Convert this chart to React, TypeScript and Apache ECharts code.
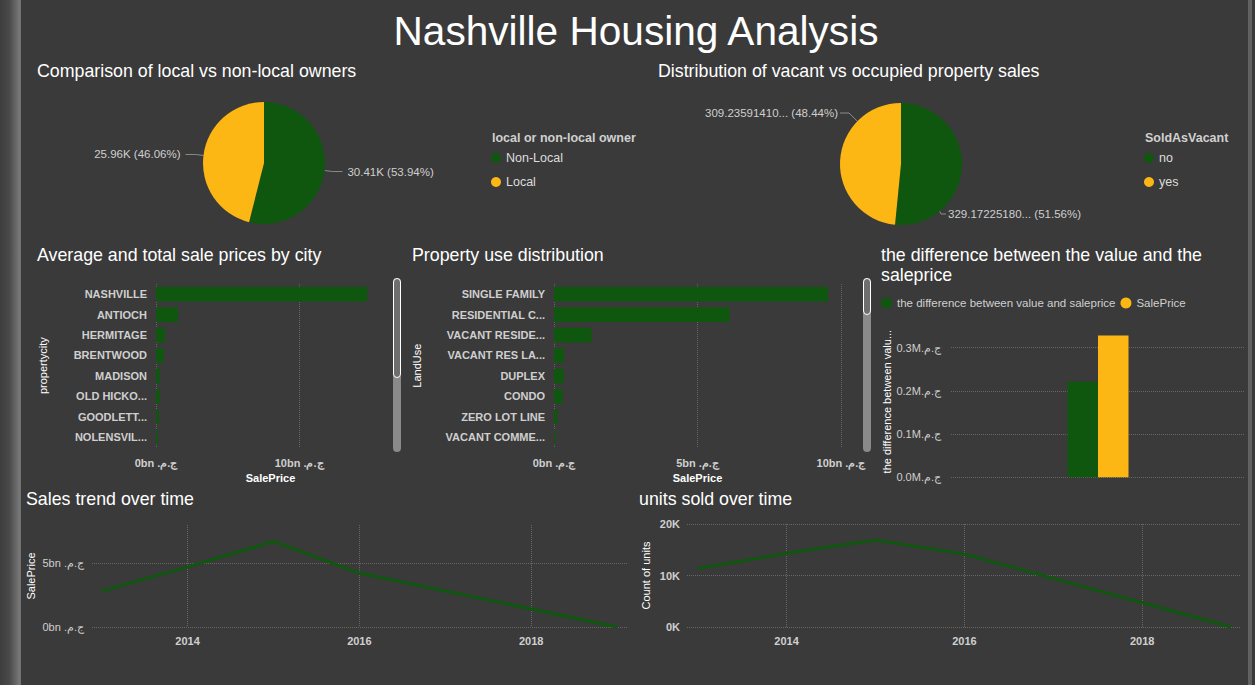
import React, { useEffect, useRef } from "react";
import * as echarts from "echarts";

// ---------- data ----------
const ownerTypes = ["Non-Local", "Local"];
const ownerCounts = [30406, 25964];

const vacantTypes = ["no", "yes"];
const vacantSums = [329.1722518, 309.2359141];

const cities = ["NASHVILLE", "ANTIOCH", "HERMITAGE", "BRENTWOOD", "MADISON", "OLD HICKORY", "GOODLETTSVILLE", "NOLENSVILLE"];
const citySalesBn = [14.76, 1.54, 0.63, 0.54, 0.26, 0.26, 0.19, 0.12];

const landUses = ["SINGLE FAMILY", "RESIDENTIAL CONDO", "VACANT RESIDENTIAL LAND", "VACANT RES LAND", "DUPLEX", "CONDO", "ZERO LOT LINE", "VACANT COMMERCIAL LAND"];
const landSalesBn = [9.55, 6.12, 1.31, 0.35, 0.34, 0.3, 0.12, 0.05];

const diffSeriesNames = ["the difference between value and saleprice", "SalePrice"];
const diffValues = [221000, 328000];

const years = [2013, 2014, 2015, 2016, 2019];
const yearlySalesBn = [2.81, 4.72, 6.71, 4.23, 0.003];
const yearlyUnits = [11360, 14300, 16880, 14150, 2];
const yearTicks = [2014, 2016, 2018];

// ---------- style ----------
const GREEN = "#0f570f";
const YELLOW = "#fdb714";
const BG = "#3a3a3a";
const FONT = "'Liberation Sans', Arial, sans-serif";
const LABEL = "#cfcfcf";
const CUR = " ج.م.\u200f";
const CUR_TIGHT = "ج.م.\u200f";
const gridLine = { show: true, lineStyle: { color: "#666666", type: "dotted", width: 1 } };
const PIE2 = { cx: 901, cy: 164, r: 61 };

const txt = (text: string, x: number, y: number, fontSize: number, extra: any = {}) => ({
  type: "text",
  x,
  y,
  silent: true,
  style: {
    text,
    fill: "#ffffff",
    fontSize,
    fontFamily: FONT,
    align: "left",
    textAlign: "left",
    verticalAlign: "middle",
    textVerticalAlign: "middle",
    ...extra,
  },
});

const scrollbar = (x: number, top: number, h: number, thumbH: number) => [
  { type: "rect", silent: true, shape: { x, y: top, width: 8, height: h, r: 4 }, style: { fill: "#8a8a8a" } },
  {
    type: "rect",
    silent: true,
    shape: { x: x + 0.5, y: top + 0.5, width: 7, height: thumbH, r: 3.5 },
    style: { fill: "#6e6e6e", stroke: "#ffffff", lineWidth: 1 },
  },
];

// point on pie 2's rim in the direction of (px, py)
const rimToward = (px: number, py: number) => {
  const dx = px - PIE2.cx;
  const dy = py - PIE2.cy;
  const d = Math.sqrt(dx * dx + dy * dy);
  return [PIE2.cx + (dx / d) * PIE2.r, PIE2.cy + (dy / d) * PIE2.r];
};

const axisLabelStyle = { color: LABEL, fontSize: 11, fontWeight: "bold", fontFamily: FONT };
const nameStyle = { color: "#ffffff", fontSize: 11, fontFamily: FONT };

export default function App() {
  const ref = useRef<HTMLDivElement>(null);

  useEffect(() => {
    document.body.style.margin = "0";
    document.body.style.background = BG;
    const chart = echarts.init(ref.current!, null, { renderer: "svg" });

    const option: any = {
      animation: false,
      backgroundColor: BG,
      textStyle: { fontFamily: FONT },
      graphic: [
        {
          type: "rect",
          silent: true,
          shape: { x: 0, y: 0, width: 21, height: 685 },
          style: {
            fill: new echarts.graphic.LinearGradient(0, 0, 1, 0, [
              { offset: 0, color: "#3e3e3e" },
              { offset: 0.45, color: "#4a4a4a" },
              { offset: 0.95, color: "#7a7a7a" },
              { offset: 1, color: "#6a6a6a" },
            ]),
          },
        },
        { type: "rect", silent: true, shape: { x: 1248, y: 0, width: 4, height: 685 }, style: { fill: "#616161" } },
        txt("Nashville Housing Analysis", 636, 31, 40.6, { align: "center", textAlign: "center" }),
        txt("Comparison of local vs non-local owners", 37, 71, 17.8),
        txt("Distribution of vacant vs occupied property sales", 658, 71, 17.8),
        txt("Average and total sale prices by city", 37, 255, 17.8),
        txt("Property use distribution", 412, 255, 17.8),
        txt("the difference between the value and the\nsaleprice", 881, 265, 17.8, { lineHeight: 20 }),
        txt("Sales trend over time", 26, 499, 17.8),
        txt("units sold over time", 639, 499, 17.8),
        txt("local or non-local owner", 492, 138, 12.5, { fill: "#d0d0d0", fontWeight: "bold" }),
        txt("SoldAsVacant", 1145, 138, 12.5, { fill: "#d0d0d0", fontWeight: "bold" }),
        ...scrollbar(393, 278, 174, 99),
        ...scrollbar(863, 278, 174, 36),
      ],
      legend: [
        {
          data: ownerTypes,
          orient: "vertical",
          left: 491,
          top: 151,
          padding: 0,
          icon: "circle",
          itemWidth: 10,
          itemHeight: 10,
          itemGap: 10,
          selectedMode: false,
          textStyle: { color: "#dddddd", fontSize: 12.5, lineHeight: 14, fontFamily: FONT },
        },
        {
          data: vacantTypes,
          orient: "vertical",
          left: 1144,
          top: 151,
          padding: 0,
          icon: "circle",
          itemWidth: 10,
          itemHeight: 10,
          itemGap: 10,
          selectedMode: false,
          textStyle: { color: "#dddddd", fontSize: 12.5, lineHeight: 14, fontFamily: FONT },
        },
        {
          data: diffSeriesNames,
          orient: "horizontal",
          left: 881,
          top: 296,
          padding: 0,
          icon: "circle",
          itemWidth: 11,
          itemHeight: 11,
          itemGap: 5,
          selectedMode: false,
          textStyle: { color: "#d0d0d0", fontSize: 11.5, lineHeight: 14, fontFamily: FONT },
        },
      ],
      grid: [
        { left: 156, top: 284, width: 229, height: 163.4 },
        { left: 554, top: 284, width: 287, height: 163.4 },
        { left: 951, top: 326, width: 294, height: 151.3 },
        { left: 92, top: 525, width: 535, height: 102 },
        { left: 687, top: 524, width: 553, height: 103 },
      ],
      xAxis: [
        {
          gridIndex: 0,
          type: "value",
          min: 0,
          max: 16,
          interval: 10,
          axisLine: { show: false },
          axisTick: { show: false },
          axisLabel: { ...axisLabelStyle, margin: 10, showMaxLabel: false, formatter: (v: number) => `${v}bn${CUR}` },
          splitLine: { ...gridLine, showMaxLine: false },
          name: "SalePrice",
          nameLocation: "middle",
          nameGap: 25,
          nameTextStyle: { ...nameStyle, fontWeight: "bold" },
        },
        {
          gridIndex: 1,
          type: "value",
          min: 0,
          max: 10,
          interval: 5,
          axisLine: { show: false },
          axisTick: { show: false },
          axisLabel: { ...axisLabelStyle, margin: 10, formatter: (v: number) => `${v}bn${CUR}` },
          splitLine: gridLine,
          name: "SalePrice",
          nameLocation: "middle",
          nameGap: 25,
          nameTextStyle: { ...nameStyle, fontWeight: "bold" },
        },
        {
          gridIndex: 2,
          type: "category",
          data: [""],
          axisLine: { show: false },
          axisTick: { show: false },
          axisLabel: { show: false },
          splitLine: { show: false },
        },
        {
          gridIndex: 3,
          type: "value",
          min: 2012.887,
          max: 2019.116,
          axisLine: { show: false },
          axisTick: { show: false, customValues: yearTicks },
          axisLabel: { ...axisLabelStyle, customValues: yearTicks, formatter: (v: number) => String(v) },
          splitLine: gridLine,
        },
        {
          gridIndex: 4,
          type: "value",
          min: 2012.88,
          max: 2019.1,
          axisLine: { show: false },
          axisTick: { show: false, customValues: yearTicks },
          axisLabel: { ...axisLabelStyle, customValues: yearTicks, formatter: (v: number) => String(v) },
          splitLine: gridLine,
        },
      ],
      yAxis: [
        {
          gridIndex: 0,
          type: "category",
          inverse: true,
          data: cities,
          axisLine: { show: false },
          axisTick: { show: false },
          axisLabel: { ...axisLabelStyle, margin: 9, width: 76, overflow: "truncate", ellipsis: "..." },
          name: "propertycity",
          nameLocation: "middle",
          nameGap: 108,
          nameTextStyle: nameStyle,
        },
        {
          gridIndex: 1,
          type: "category",
          inverse: true,
          data: landUses,
          axisLine: { show: false },
          axisTick: { show: false },
          axisLabel: { ...axisLabelStyle, margin: 9, width: 101, overflow: "truncate", ellipsis: "..." },
          name: "LandUse",
          nameLocation: "middle",
          nameGap: 132,
          nameTextStyle: nameStyle,
        },
        {
          gridIndex: 2,
          type: "value",
          min: 0,
          max: 350000,
          interval: 100000,
          axisLine: { show: false },
          axisTick: { show: false },
          axisLabel: {
            ...axisLabelStyle,
            fontWeight: "normal",
            margin: 10,
            showMaxLabel: false,
            formatter: (v: number) => `${(v / 1e6).toFixed(1)}M${CUR_TIGHT}`,
          },
          splitLine: { ...gridLine, showMaxLine: false },
          name: "the difference between valu...",
          nameLocation: "middle",
          nameGap: 56,
          nameTextStyle: nameStyle,
        },
        {
          gridIndex: 3,
          type: "value",
          min: 0,
          max: 8,
          interval: 5,
          axisLine: { show: false },
          axisTick: { show: false },
          axisLabel: { ...axisLabelStyle, fontWeight: "normal", showMaxLabel: false, formatter: (v: number) => `${v}bn${CUR}` },
          splitLine: { ...gridLine, showMaxLine: false },
          name: "SalePrice",
          nameLocation: "middle",
          nameGap: 56,
          nameTextStyle: nameStyle,
        },
        {
          gridIndex: 4,
          type: "value",
          min: 0,
          max: 20000,
          interval: 10000,
          axisLine: { show: false },
          axisTick: { show: false },
          axisLabel: { ...axisLabelStyle, margin: 7, formatter: (v: number) => `${v / 1000}K` },
          splitLine: gridLine,
          name: "Count of units",
          nameLocation: "middle",
          nameGap: 36,
          nameTextStyle: nameStyle,
        },
      ],
      series: [
        {
          type: "pie",
          center: [264, 163],
          radius: 61,
          startAngle: 90,
          clockwise: true,
          silent: true,
          itemStyle: { borderWidth: 0 },
          data: ownerTypes.map((n, i) => ({ name: n, value: ownerCounts[i], itemStyle: { color: i === 0 ? GREEN : YELLOW } })),
          label: {
            color: LABEL,
            fontSize: 11.5,
            fontFamily: FONT,
            formatter: (p: any) => `${(p.value / 1000).toFixed(2)}K (${p.percent.toFixed(2)}%)`,
          },
          labelLine: { length: 8, length2: 10, lineStyle: { color: "#8a8a8a", width: 1 } },
        },
        {
          type: "pie",
          center: [PIE2.cx, PIE2.cy],
          radius: PIE2.r,
          startAngle: 90,
          clockwise: true,
          silent: true,
          itemStyle: { borderWidth: 0 },
          data: vacantTypes.map((n, i) => ({ name: n, value: vacantSums[i], itemStyle: { color: i === 0 ? GREEN : YELLOW } })),
          label: {
            color: LABEL,
            fontSize: 11.5,
            fontFamily: FONT,
            formatter: (p: any) => `${p.value.toFixed(8)}... (${p.percent.toFixed(2)}%)`,
          },
          labelLine: { length: 8, length2: 8, lineStyle: { color: "#8a8a8a", width: 1 } },
          labelLayout: (p: any) => {
            const w = p.labelRect.width;
            const h = p.labelRect.height;
            if (p.dataIndex === 1) {
              const right = PIE2.cx - 63;
              const my = PIE2.cy - 51;
              const turn = [right + 11, my];
              return {
                x: right - w,
                y: my - h / 2,
                align: "left",
                verticalAlign: "top",
                labelLinePoints: [rimToward(turn[0], turn[1]), turn, [right + 2, my]],
              };
            }
            const left = PIE2.cx + 47;
            const my = PIE2.cy + 50;
            const turn = [left - 7, my];
            return {
              x: left,
              y: my - h / 2,
              align: "left",
              verticalAlign: "top",
              labelLinePoints: [rimToward(turn[0] - 4, turn[1] - 6), turn, [left - 2, my]],
            };
          },
        },
        {
          type: "bar",
          xAxisIndex: 0,
          yAxisIndex: 0,
          data: citySalesBn,
          barCategoryGap: "28%",
          itemStyle: { color: GREEN },
          silent: true,
        },
        {
          type: "bar",
          xAxisIndex: 1,
          yAxisIndex: 1,
          data: landSalesBn,
          barCategoryGap: "28%",
          itemStyle: { color: GREEN },
          silent: true,
        },
        {
          type: "bar",
          name: diffSeriesNames[0],
          xAxisIndex: 2,
          yAxisIndex: 2,
          data: [diffValues[0]],
          barWidth: 30.5,
          barGap: "0%",
          itemStyle: { color: GREEN },
          silent: true,
        },
        {
          type: "bar",
          name: diffSeriesNames[1],
          xAxisIndex: 2,
          yAxisIndex: 2,
          data: [diffValues[1]],
          barWidth: 30.5,
          barGap: "0%",
          itemStyle: { color: YELLOW },
          silent: true,
        },
        {
          type: "line",
          xAxisIndex: 3,
          yAxisIndex: 3,
          data: years.map((y, i) => [y, yearlySalesBn[i]]),
          showSymbol: false,
          symbol: "none",
          lineStyle: { color: GREEN, width: 3 },
          itemStyle: { color: GREEN },
          silent: true,
        },
        {
          type: "line",
          xAxisIndex: 4,
          yAxisIndex: 4,
          data: years.map((y, i) => [y, yearlyUnits[i]]),
          showSymbol: false,
          symbol: "none",
          lineStyle: { color: GREEN, width: 3 },
          itemStyle: { color: GREEN },
          silent: true,
        },
      ],
    };

    chart.setOption(option);
    return () => chart.dispose();
  }, []);

  return <div ref={ref} style={{ width: 1255, height: 685 }} />;
}
